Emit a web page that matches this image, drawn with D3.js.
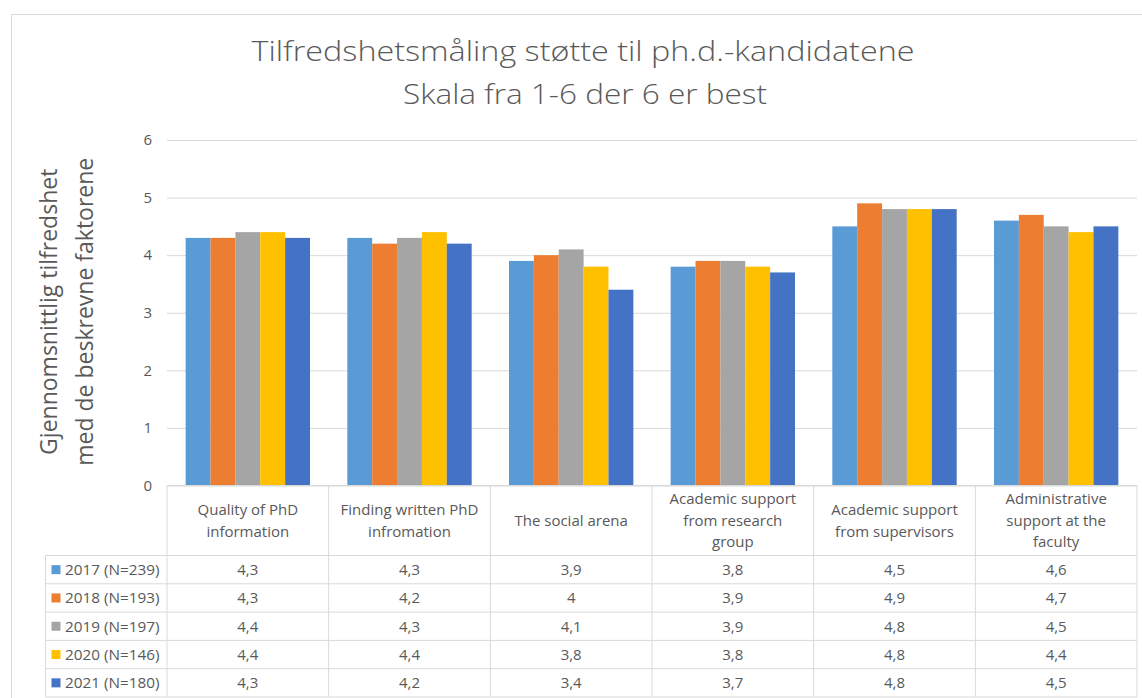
<!DOCTYPE html>
<html>
<head>
<meta charset="utf-8">
<script src="https://cdn.jsdelivr.net/npm/d3@7"></script>
<style>
  body { margin: 0; background: #fff; }
  text { font-family: "Open Sans", "Segoe UI", sans-serif; fill: #595959; }
</style>
</head>
<body>
<div id="chart"></div>
<script>
// chart data
var categories = [
    'Quality of PhD\ninformation',
    'Finding written PhD\ninfromation',
    'The social arena',
    'Academic support\nfrom research\ngroup',
    'Academic support\nfrom supervisors',
    'Administrative\nsupport at the\nfaculty'
];
var seriesNames = ['2017 (N=239)', '2018 (N=193)', '2019 (N=197)', '2020 (N=146)', '2021 (N=180)'];
var values2017 = [4.3, 4.3, 3.9, 3.8, 4.5, 4.6];
var values2018 = [4.3, 4.2, 4.0, 3.9, 4.9, 4.7];
var values2019 = [4.4, 4.3, 4.1, 3.9, 4.8, 4.5];
var values2020 = [4.4, 4.4, 3.8, 3.8, 4.8, 4.4];
var values2021 = [4.3, 4.2, 3.4, 3.7, 4.8, 4.5];
var yTicks = [0, 1, 2, 3, 4, 5, 6];
var colors = ['#5B9BD5', '#ED7D31', '#A5A5A5', '#FFC000', '#4472C4'];

var allValues = [values2017, values2018, values2019, values2020, values2021];

var width = 1142;
var height = 698;

// plot area
var plot = { left: 167, right: 1137, top: 140, bottom: 485.5 };
var rowH = 28.3;
var headerBottom = 555.5;
var labelColLeft = 45.5;
var gridColor = '#d9d9d9';

var svg = d3.select('#chart').append('svg')
    .attr('width', width)
    .attr('height', height);

// outer chart border (only left and top are visible)
svg.append('path')
    .attr('d', 'M11.5,' + height + 'V14.5H' + width)
    .attr('fill', 'none')
    .attr('stroke', gridColor);

// title
var title = svg.append('g')
    .attr('text-anchor', 'middle')
    .attr('font-weight', 300);
title.append('text')
    .attr('x', 583).attr('y', 61)
    .attr('font-size', 28)
    .attr('textLength', 663).attr('lengthAdjust', 'spacingAndGlyphs')
    .text('Tilfredshetsmåling støtte til ph.d.-kandidatene');
title.append('text')
    .attr('x', 585).attr('y', 104)
    .attr('font-size', 28)
    .attr('textLength', 364).attr('lengthAdjust', 'spacingAndGlyphs')
    .text('Skala fra 1-6 der 6 er best');

// scales
var x0 = d3.scaleBand()
    .domain(categories)
    .range([plot.left, plot.right]);

var x1 = d3.scaleBand()
    .domain(seriesNames)
    .range([0, x0.bandwidth()])
    .paddingOuter(0.75);

var y = d3.scaleLinear()
    .domain([0, 6])
    .range([plot.bottom, plot.top]);

// y axis with gridlines
var yAxis = svg.append('g')
    .attr('transform', 'translate(' + plot.left + ',0)')
    .call(d3.axisLeft(y)
        .tickValues(yTicks)
        .tickSize(-(plot.right - plot.left))
        .tickPadding(15)
        .tickFormat(d3.format('d')));
yAxis.select('.domain').remove();
yAxis.selectAll('.tick line').attr('stroke', gridColor);
yAxis.selectAll('.tick text')
    .attr('font-size', 15)
    .attr('fill', '#595959')
    .style('font-family', '"Open Sans", sans-serif');

// y axis title
var yTitle = svg.append('g')
    .attr('transform', 'translate(0,' + ((plot.top + plot.bottom) / 2 - 1) + ') rotate(-90)')
    .attr('text-anchor', 'middle')
    .attr('font-size', 23);
yTitle.append('text').attr('x', 0).attr('y', 57).text('Gjennomsnittlig tilfredshet');
yTitle.append('text').attr('x', 0).attr('y', 93).text('med de beskrevne faktorene');

// bars
var groups = svg.append('g').selectAll('g')
    .data(seriesNames)
    .enter()
    .append('g')
    .attr('fill', (d, i) => colors[i]);

groups.selectAll('rect')
    .data((s, i) => allValues[i].map((v, j) => ({ cat: categories[j], series: s, value: v })))
    .enter()
    .append('rect')
    .attr('x', d => x0(d.cat) + x1(d.series))
    .attr('y', d => y(d.value))
    .attr('width', x1.bandwidth())
    .attr('height', d => y(0) - y(d.value));

// data table
var table = svg.append('g')
    .attr('stroke', gridColor)
    .attr('fill', 'none');
var tableBottom = headerBottom + rowH * seriesNames.length;

// horizontal lines
table.append('line')
    .attr('x1', plot.left).attr('x2', plot.right)
    .attr('y1', plot.bottom).attr('y2', plot.bottom);
d3.range(seriesNames.length + 1).forEach(function(i) {
    var yy = headerBottom + rowH * i;
    table.append('line')
        .attr('x1', labelColLeft).attr('x2', plot.right)
        .attr('y1', yy).attr('y2', yy);
});
// vertical lines
table.append('line')
    .attr('x1', labelColLeft).attr('x2', labelColLeft)
    .attr('y1', headerBottom).attr('y2', tableBottom);
categories.forEach(function(c) {
    table.append('line')
        .attr('x1', x0(c)).attr('x2', x0(c))
        .attr('y1', plot.bottom).attr('y2', tableBottom);
});
table.append('line')
    .attr('x1', plot.right).attr('x2', plot.right)
    .attr('y1', plot.bottom).attr('y2', tableBottom);

// category headers
var lineH = 21.5;
var headers = svg.append('g')
    .attr('text-anchor', 'middle')
    .attr('font-size', 15);
categories.forEach(function(c) {
    var lines = c.split('\n');
    var cx = x0(c) + x0.bandwidth() / 2;
    var cy = (plot.bottom + headerBottom) / 2;
    var t = headers.append('text')
        .attr('x', cx)
        .attr('y', cy - (lines.length - 1) * lineH / 2);
    lines.forEach(function(l, k) {
        t.append('tspan')
            .attr('x', cx)
            .attr('dy', k === 0 ? '0.35em' : lineH)
            .text(l);
    });
});

// table rows: legend key, label, values
var rows = svg.append('g').selectAll('g')
    .data(seriesNames)
    .enter()
    .append('g')
    .attr('transform', (d, i) => 'translate(0,' + (headerBottom + rowH * i + rowH / 2) + ')');

rows.append('rect')
    .attr('x', 51.5).attr('y', -4.5)
    .attr('width', 9).attr('height', 9)
    .attr('fill', (d, i) => colors[i]);

rows.append('text')
    .attr('x', 65).attr('dy', '0.35em')
    .attr('font-size', 15.3)
    .text(d => d);

rows.each(function(s, i) {
    d3.select(this).selectAll('text.val')
        .data(allValues[i])
        .enter()
        .append('text')
        .attr('class', 'val')
        .attr('x', (v, j) => x0(categories[j]) + x0.bandwidth() / 2)
        .attr('dy', '0.35em')
        .attr('text-anchor', 'middle')
        .attr('font-size', 15)
        .text(v => String(v).replace('.', ','));
});
</script>
</body>
</html>
